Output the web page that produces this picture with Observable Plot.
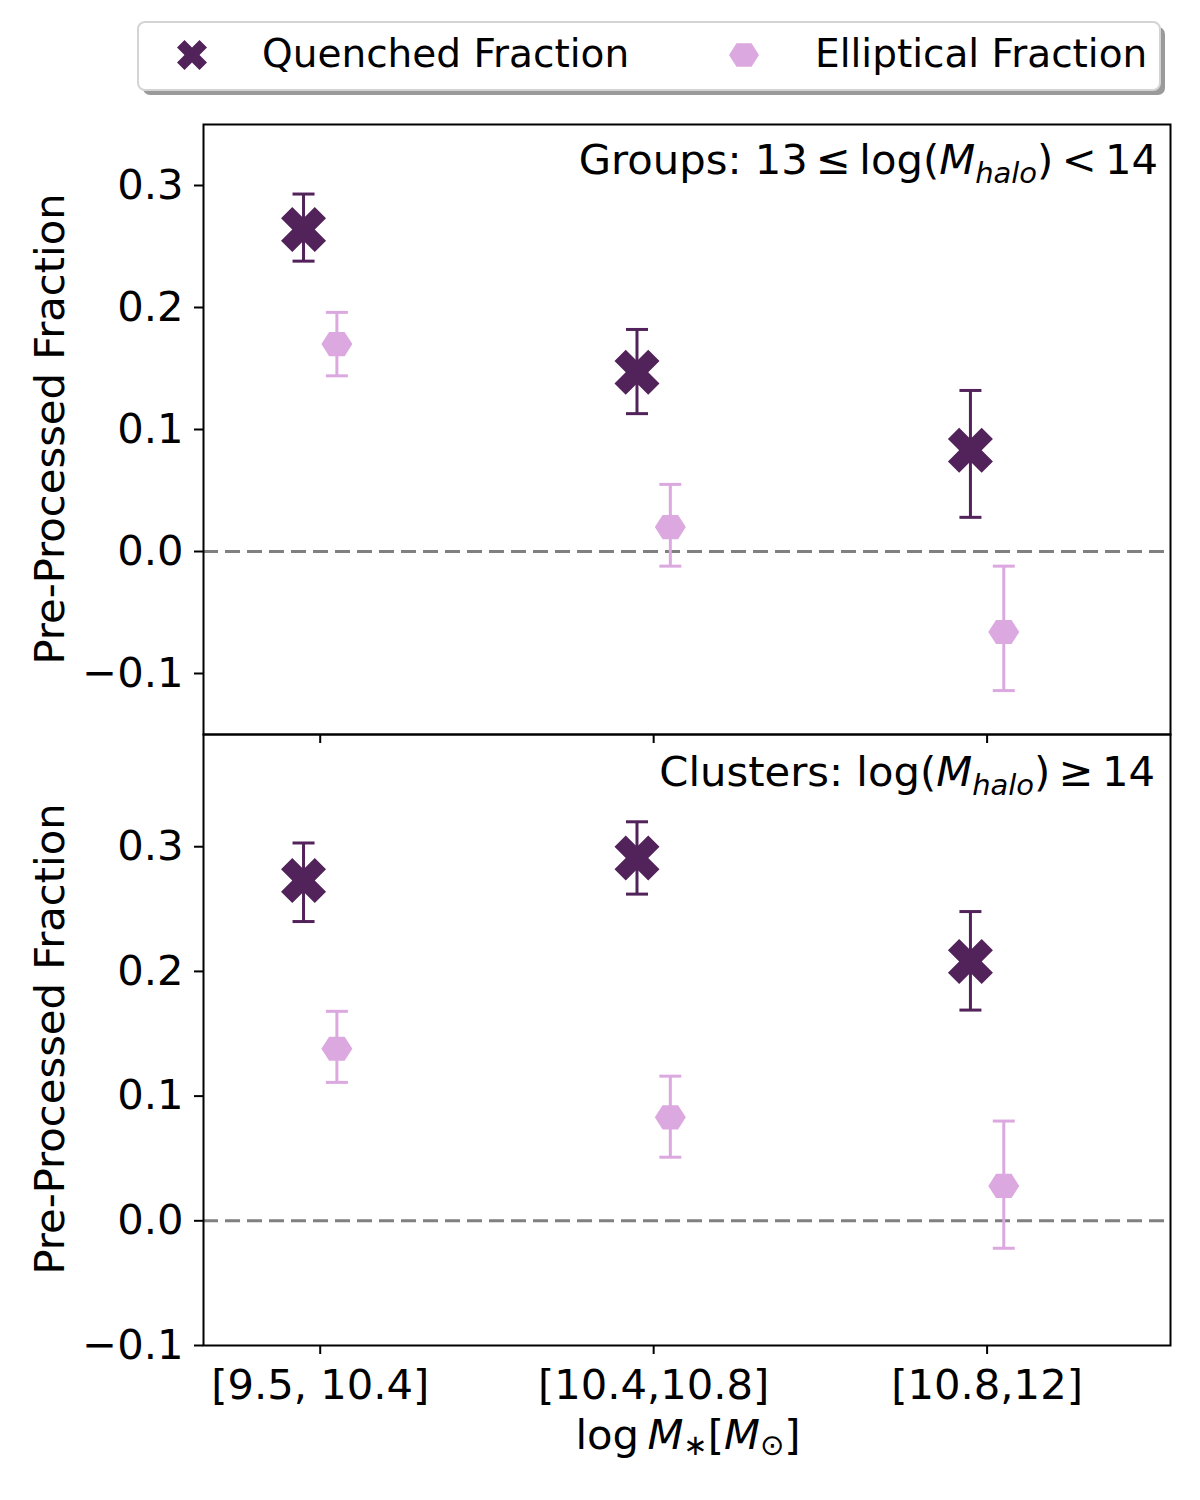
<!DOCTYPE html>
<html><head><meta charset="utf-8">
<script src="https://cdn.jsdelivr.net/npm/d3@7"></script>
<script src="https://cdn.jsdelivr.net/npm/@observablehq/plot@0.6"></script>
<style>
body{margin:0;background:#fff;}
#wrap{position:relative;width:1200px;height:1500px;font-family:"DejaVu Sans",sans-serif;}
#wrap svg{position:absolute;left:0;top:0;}
</style></head><body><div id="wrap"></div>
<script>
// ---- data ----
const categories = ["[9.5, 10.4]", "[10.4,10.8]", "[10.8,12]"];
const yTicks = [-0.1, 0.0, 0.1, 0.2, 0.3];

const groupsQuenched   = [0.264, 0.147, 0.083];
const groupsQuenchedLo = [0.238, 0.113, 0.028];
const groupsQuenchedHi = [0.293, 0.182, 0.132];
const groupsElliptical   = [0.170, 0.020, -0.066];
const groupsEllipticalLo = [0.144, -0.012, -0.114];
const groupsEllipticalHi = [0.196, 0.055, -0.012];

const clustersQuenched   = [0.273, 0.291, 0.208];
const clustersQuenchedLo = [0.240, 0.262, 0.169];
const clustersQuenchedHi = [0.303, 0.320, 0.248];
const clustersElliptical   = [0.138, 0.083, 0.028];
const clustersEllipticalLo = [0.111, 0.051, -0.022];
const clustersEllipticalHi = [0.168, 0.116, 0.080];

const seriesNames = ["Quenched Fraction", "Elliptical Fraction"];

// ---- style ----
const DARK = "#52225a";
const LIGHT = "#dca8e0";
const FONT = "DejaVu Sans";
const FS = 41.7;

// custom symbols
const xSymbol = {draw(ctx, size) {
  const r = Math.sqrt(size / Math.PI), s = r / 2;
  const pts = [[-1,-2],[0,-1],[1,-2],[2,-1],[1,0],[2,1],[1,2],[0,1],[-1,2],[-2,1],[-1,0],[-2,-1]];
  ctx.moveTo(pts[0][0]*s, pts[0][1]*s);
  for (let k = 1; k < pts.length; k++) ctx.lineTo(pts[k][0]*s, pts[k][1]*s);
  ctx.closePath();
}};
const hexSymbol = {draw(ctx, size) {
  const r = Math.sqrt(size / Math.PI);
  for (let k = 0; k < 6; k++) {
    const a = k * Math.PI / 3;
    const px = r * Math.cos(a), py = r * Math.sin(a) * 0.9;
    if (k === 0) ctx.moveTo(px, py); else ctx.lineTo(px, py);
  }
  ctx.closePath();
}};
const capSymbol = {draw(ctx, size) {
  const r = Math.sqrt(size / Math.PI);
  ctx.moveTo(-r, 0); ctx.lineTo(r, 0);
}};

const wrap = document.getElementById("wrap");

function rows(v, lo, hi) {
  return categories.map((c, i) => ({i, cat: c, v: v[i], lo: lo[i], hi: hi[i]}));
}

function panel(cfg) {
  const q = rows(cfg.q, cfg.qLo, cfg.qHi);
  const e = rows(cfg.e, cfg.eLo, cfg.eHi);
  const qx = d => d.i - 0.05, ex = d => d.i + 0.05;
  const svg = Plot.plot({
    width: 1200, height: cfg.height,
    marginLeft: 203, marginRight: 30,
    marginTop: cfg.marginTop, marginBottom: cfg.marginBottom,
    style: {fontSize: FS + "px", fontFamily: FONT, background: "transparent", color: "black", overflow: "visible"},
    x: {domain: [-0.35, 2.55], label: null},
    y: {domain: cfg.domain, label: null},
    marks: [
      Plot.ruleY([0], {stroke: "#808080", strokeWidth: 3, strokeDasharray: "15,7"}),
      Plot.axisY({ticks: yTicks, tickSize: 9, tickPadding: 11, strokeWidth: 2, tickFormat: d3.format(".1f"), label: null}),
      Plot.axisX({ticks: [0, 1, 2], tickSize: 9, tickPadding: 15, strokeWidth: 2,
        tickFormat: cfg.showX ? (i => categories[i]) : (() => ""), label: null}),
      // quenched
      Plot.ruleX(q, {x: qx, y1: "lo", y2: "hi", stroke: DARK, strokeWidth: 3}),
      Plot.dot(q, {x: qx, y: "lo", symbol: capSymbol, r: 11, stroke: DARK, strokeWidth: 3, fill: "none"}),
      Plot.dot(q, {x: qx, y: "hi", symbol: capSymbol, r: 11, stroke: DARK, strokeWidth: 3, fill: "none"}),
      Plot.dot(q, {x: qx, y: "v", symbol: xSymbol, r: 22.5, fill: DARK, stroke: "none"}),
      // elliptical
      Plot.ruleX(e, {x: ex, y1: "lo", y2: "hi", stroke: LIGHT, strokeWidth: 3}),
      Plot.dot(e, {x: ex, y: "lo", symbol: capSymbol, r: 11, stroke: LIGHT, strokeWidth: 3, fill: "none"}),
      Plot.dot(e, {x: ex, y: "hi", symbol: capSymbol, r: 11, stroke: LIGHT, strokeWidth: 3, fill: "none"}),
      Plot.dot(e, {x: ex, y: "v", symbol: hexSymbol, r: 15.5, fill: LIGHT, stroke: "none"}),
      Plot.frame({stroke: "black", strokeWidth: 2})
    ]
  });
  const s = d3.select(svg);
  // y label
  s.append("text")
    .attr("transform", `translate(64,${cfg.marginTop + 305}) rotate(-90)`)
    .attr("text-anchor", "middle")
    .attr("font-size", FS).attr("font-family", FONT).attr("fill", "black")
    .text("Pre-Processed Fraction");
  // annotation
  const t = s.append("text")
    .attr("x", cfg.annX).attr("y", cfg.annY)
    .attr("text-anchor", "end").attr("font-size", FS).attr("font-family", FONT).attr("fill", "black");
  cfg.annotation(t);
  wrap.appendChild(svg);
  return s;
}

function mathHalo(t) {
  t.append("tspan").text("log(");
  t.append("tspan").attr("font-style", "italic").text("M");
  t.append("tspan").attr("font-style", "italic").attr("font-size", 29).attr("dy", 9).text("halo");
  t.append("tspan").attr("dy", -9).text(")");
}

panel({
  q: groupsQuenched, qLo: groupsQuenchedLo, qHi: groupsQuenchedHi,
  e: groupsElliptical, eLo: groupsEllipticalLo, eHi: groupsEllipticalHi,
  domain: [-0.15, 0.35], height: 750, marginTop: 124, marginBottom: 16, showX: false,
  annX: 1158, annY: 174,
  annotation: t => { t.append("tspan").text("Groups: 13\u2009\u2264\u2009"); mathHalo(t); t.append("tspan").text("\u2009<\u200914"); }
});

const bottom = panel({
  q: clustersQuenched, qLo: clustersQuenchedLo, qHi: clustersQuenchedHi,
  e: clustersElliptical, eLo: clustersEllipticalLo, eHi: clustersEllipticalHi,
  domain: [-0.1, 0.39], height: 1500, marginTop: 734, marginBottom: 155, showX: true,
  annX: 1155, annY: 786,
  annotation: t => { t.append("tspan").text("Clusters: "); mathHalo(t); t.append("tspan").text("\u2009\u2265\u200914"); }
});

// x label
const xl = bottom.append("text").attr("x", 688).attr("y", 1449)
  .attr("text-anchor", "middle").attr("font-size", FS).attr("font-family", FONT).attr("fill", "black");
xl.append("tspan").text("log\u2009");
xl.append("tspan").attr("font-style", "italic").text("M");
xl.append("tspan").attr("font-size", 29).attr("dy", 6).text("\u2217");
xl.append("tspan").attr("dy", -6).text("[");
xl.append("tspan").attr("font-style", "italic").text("M");
xl.append("tspan").attr("font-size", 29).attr("dy", 6).text("\u2299");
xl.append("tspan").attr("dy", -6).text("]");

// ---- legend ----
const leg = d3.select(wrap).append("svg").attr("width", 1200).attr("height", 110);
leg.append("rect").attr("x", 143).attr("y", 27).attr("width", 1022).attr("height", 68).attr("rx", 7).attr("fill", "#9a9a9a");
leg.append("rect").attr("x", 138).attr("y", 22).attr("width", 1022).attr("height", 68).attr("rx", 7)
  .attr("fill", "white").attr("stroke", "#d4d4d4").attr("stroke-width", 2);
const items = [
  {name: seriesNames[0], sym: xSymbol, r: 15, color: DARK, mx: 192, tx: 262},
  {name: seriesNames[1], sym: hexSymbol, r: 15, color: LIGHT, mx: 744, tx: 815}
];
for (const it of items) {
  leg.append("path").attr("transform", `translate(${it.mx},55)`)
    .attr("d", d3.symbol(it.sym, it.r * it.r * Math.PI)()).attr("fill", it.color);
  leg.append("text").attr("x", it.tx).attr("y", 67).attr("font-size", 39).attr("font-family", FONT)
    .attr("fill", "black").text(it.name);
}
</script></body></html>
